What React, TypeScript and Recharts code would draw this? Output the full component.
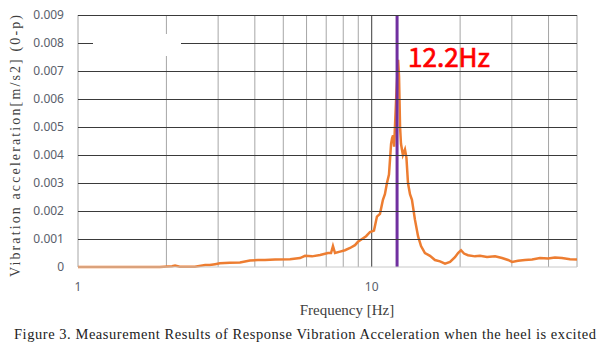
import { LineChart, Line, XAxis, YAxis, ReferenceLine, Legend } from 'recharts';

// frequency [Hz] / response acceleration [m/s2]
const FREQ_HZ = [
  1.0, 1.39, 1.9, 2.09, 2.14, 2.22, 2.5, 2.71, 2.81, 2.93, 3.04, 3.29, 3.56, 3.85, 4.1, 4.33, 4.69, 5.27,
  5.7, 5.93, 6.26, 6.67, 7.1, 7.27, 7.38, 7.5, 7.8, 8.11, 8.44, 8.77, 8.98, 9.27, 9.57, 9.87, 10.18,
  10.42, 10.67, 10.92, 11.09, 11.27, 11.45, 11.64, 11.73, 11.82, 11.92, 12.11, 12.3, 12.39, 12.49,
  12.58, 12.77, 12.98, 13.13, 13.29, 13.5, 13.71, 14.03, 14.38, 14.72, 15.18, 15.79, 16.42, 17.08,
  17.77, 18.48, 19.21, 19.68, 20.14, 20.62, 21.27, 22.48, 23.37, 24.7, 26.3, 27.78, 29.12, 30.05,
  31.5, 33.26, 35.16, 37.41, 39.83, 42.07, 44.43, 47.33, 50.0,
];
const ACCEL = [
  0, 0, 0, 0.00003, 0.00005, 0.00001, 0.00001, 0.00007, 0.00007, 0.0001, 0.00013, 0.00015, 0.00016,
  0.00023, 0.00025, 0.00025, 0.00027, 0.00028, 0.00032, 0.0004, 0.00038, 0.00043, 0.0005, 0.0005,
  0.00075, 0.0005, 0.00055, 0.0006, 0.00068, 0.00078, 0.0009, 0.001, 0.0011, 0.00125, 0.0013, 0.0018,
  0.0019, 0.0024, 0.0026, 0.003, 0.0033, 0.0044, 0.0046, 0.0047, 0.0043, 0.006, 0.0074, 0.0068, 0.005,
  0.0044, 0.004, 0.0042, 0.0039, 0.003, 0.0026, 0.0024, 0.0017, 0.0011, 0.00075, 0.0005, 0.0004,
  0.00025, 0.0002, 0.00012, 0.00018, 0.00035, 0.0005, 0.0006, 0.00048, 0.00042, 0.00038, 0.0004,
  0.00036, 0.00038, 0.00032, 0.00025, 0.00018, 0.00022, 0.00025, 0.00027, 0.00032, 0.0003, 0.00034,
  0.00032, 0.00028, 0.00027,
];
const X_TICKS = [1, 2, 3, 4, 5, 6, 7, 8, 9, 10, 20, 30, 40, 50];
const X_LABELLED = [1, 10];
const Y_TICKS = [0, 0.001, 0.002, 0.003, 0.004, 0.005, 0.006, 0.007, 0.008, 0.009];
const Y_MAX = 0.009;
const PEAK_HZ = 12.2;
const SERIES = '2F_off';

const data = FREQ_HZ.map((f, i) => ({ f, a: ACCEL[i] }));

const SANS = '"Noto Sans", sans-serif';
const SERIF = '"Liberation Serif", "Times New Roman", serif';
const TICK = { fontSize: 12, fill: '#59606b', fontFamily: SANS };

// chart box (shared by the chart margins and the gridline overlay)
const W = 600;
const H = 356;
const M = { top: 15, right: 23, bottom: 59, left: 0 };
const Y_AXIS_W = 78;
const X_AXIS_H = 30;
const PLOT_LEFT = M.left + Y_AXIS_W;
const PLOT_RIGHT = W - M.right;
const PLOT_TOP = M.top;
const PLOT_BOTTOM = H - M.bottom - X_AXIS_H;
const yOf = (v: number) => PLOT_BOTTOM - (v / Y_MAX) * (PLOT_BOTTOM - PLOT_TOP);

function LegendBox() {
  return (
    <div style={{ background: '#fff', height: 22, display: 'flex', alignItems: 'center', fontFamily: SANS, fontSize: 12, color: '#595959' }}>
      <span style={{ display: 'inline-block', width: 34, height: 3, background: '#ED7D31', marginLeft: 10, marginRight: 3 }} />
      {SERIES}
    </div>
  );
}

export default function App() {
  return (
    <div style={{ position: 'relative', width: W, height: H, background: '#fff' }}>
      <style>{'body{margin:0}'}</style>
      <LineChart width={W} height={H} data={data} margin={M}>
        {/* minor verticals grey, decade line dark */}
        {X_TICKS.map((t) => (
          <ReferenceLine key={`x${t}`} x={t} stroke={t === 10 ? '#3a3a3a' : '#a6a6a6'} zIndex={-50} />
        ))}
        <XAxis
          dataKey="f"
          type="number"
          scale="log"
          domain={[1, 50]}
          allowDataOverflow
          ticks={X_TICKS}
          interval={0}
          height={X_AXIS_H}
          tickLine={false}
          tickSize={0}
          tickMargin={15}
          axisLine={{ stroke: '#c8c8c8' }}
          tick={TICK}
          tickFormatter={(v: number) => (X_LABELLED.includes(v) ? String(v) : '')}
          label={() => (
            <text x={347} y={315} textAnchor="middle" fontFamily={SERIF} fontSize={15} fill="#404040">
              Frequency [Hz]
            </text>
          )}
        />
        <YAxis
          dataKey="a"
          type="number"
          domain={[0, Y_MAX]}
          ticks={Y_TICKS}
          interval={0}
          width={Y_AXIS_W}
          axisLine={false}
          tickLine={false}
          tickSize={0}
          tickMargin={14}
          tick={TICK}
          tickFormatter={(v: number) => (v === 0 ? '0' : v.toFixed(3))}
          label={() => (
            <text
              x={15}
              y={146}
              transform="rotate(-90 15 146)"
              textAnchor="middle"
              dominantBaseline="central"
              fontFamily={SERIF}
              fontSize={14}
              fill="#404040"
              textLength={262}
              lengthAdjust="spacing"
            >
              Vibration acceleration[m/s2] (0-p)
            </text>
          )}
        />
        <Legend
          layout="vertical"
          align="center"
          verticalAlign="middle"
          wrapperStyle={{ left: 93, top: 34, width: 88 }}
          content={() => <LegendBox />}
        />
        <Line
          type="linear"
          dataKey="a"
          name={SERIES}
          stroke="#ED7D31"
          strokeWidth={2.5}
          dot={false}
          isAnimationActive={false}
        />
        <ReferenceLine
          x={PEAK_HZ}
          stroke="#7030A0"
          strokeWidth={3}
          zIndex={450}
          label={(p: any) => (
            <text
              x={p.viewBox.x + 11}
              y={p.viewBox.y + 52}
              fontFamily='"Noto Sans CJK JP", sans-serif'
              fontSize={26}
              fill="#FF0000"
              stroke="#FF0000"
              strokeWidth={0.7}
            >
              {`${PEAK_HZ}Hz`}
            </text>
          )}
        />
      </LineChart>
      <svg width={W} height={H} style={{ position: 'absolute', left: 0, top: 0, pointerEvents: 'none' }}>
        {/* dark horizontal gridlines */}
        {Y_TICKS.filter((t) => t > 0).map((t) => (
          <rect key={t} x={PLOT_LEFT} y={Math.round(yOf(t))} width={PLOT_RIGHT - PLOT_LEFT} height={1} fill="#3a3a3a" />
        ))}
        <rect x={93} y={34} width={88} height={22} fill="#fff" />
        <text x={305} y={339} textAnchor="middle" fontFamily={SERIF} fontSize={14.5} fill="#222" textLength={582} lengthAdjust="spacing">
          Figure 3. Measurement Results of Response Vibration Acceleration when the heel is excited
        </text>
      </svg>
    </div>
  );
}
